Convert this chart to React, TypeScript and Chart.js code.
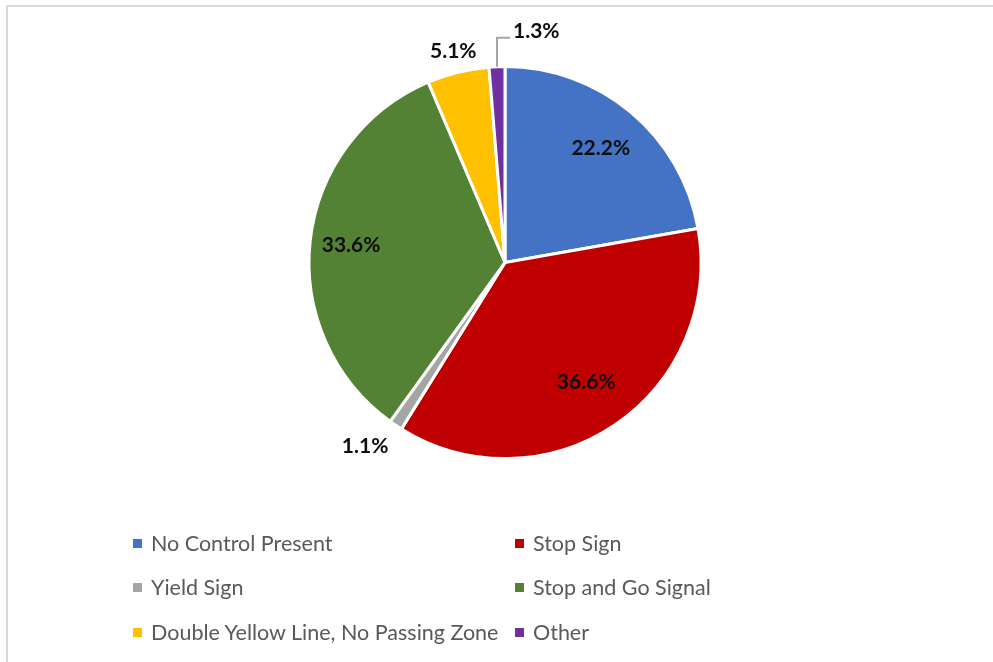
import React, { useEffect, useRef } from "react";
import { Chart, registerables } from "chart.js";

Chart.register(...registerables);

const categories = [
  "No Control Present",
  "Stop Sign",
  "Yield Sign",
  "Stop and Go Signal",
  "Double Yellow Line, No Passing Zone",
  "Other",
];
const shares = [22.2, 36.6, 1.1, 33.6, 5.1, 1.3];
const colors = ["#4472C4", "#C00000", "#A5A5A5", "#548235", "#FFC000", "#7030A0"];
const valueLabels = ["22.2%", "36.6%", "1.1%", "33.6%", "5.1%", "1.3%"];

// label placement: radius factor and pixel nudges (style only)
const placement = [
  { mode: "in", f: 0.76, dx: 0, dy: 0 },
  { mode: "in", f: 0.74, dx: 0, dy: 0 },
  { mode: "out", f: 1.18, dx: -11, dy: -8 },
  { mode: "in", f: 0.79, dx: 0, dy: 0 },
  { mode: "out", f: 1.1, dx: 0, dy: -2 },
  { mode: "leader", f: 1, dx: 0, dy: 0 },
];

const labelPlugin = {
  id: "sliceLabels",
  afterDatasetsDraw(chart: any) {
    const ctx = chart.ctx;
    const meta = chart.getDatasetMeta(0);
    ctx.save();
    ctx.font = "bold 21px Lato";
    ctx.fillStyle = "#0d0d0d";
    meta.data.forEach((arc: any, i: number) => {
      const p = arc.getProps(["x", "y", "startAngle", "endAngle", "outerRadius"], true);
      const mid = (p.startAngle + p.endAngle) / 2;
      const pl = placement[i];
      if (pl.mode === "leader") {
        const ox = p.x + Math.cos(mid) * p.outerRadius;
        const oy = p.y + Math.sin(mid) * p.outerRadius;
        const ty = oy - 29;
        ctx.strokeStyle = "#a6a6a6";
        ctx.lineWidth = 2;
        ctx.beginPath();
        ctx.moveTo(ox, oy);
        ctx.lineTo(ox, ty);
        ctx.lineTo(ox + 13, ty);
        ctx.stroke();
        ctx.textAlign = "left";
        ctx.textBaseline = "alphabetic";
        ctx.fillText(valueLabels[i], ox + 16, ty);
        return;
      }
      const r = p.outerRadius * pl.f;
      const lx = p.x + Math.cos(mid) * r + pl.dx;
      const ly = p.y + Math.sin(mid) * r + pl.dy;
      ctx.textAlign = "center";
      ctx.textBaseline = "middle";
      ctx.fillText(valueLabels[i], lx, ly);
    });
    ctx.restore();
  },
};

export default function App() {
  const canvasRef = useRef<HTMLCanvasElement | null>(null);

  useEffect(() => {
    if (!canvasRef.current) return;
    const chart = new Chart(canvasRef.current, {
      type: "pie",
      data: {
        labels: categories,
        datasets: [
          {
            data: shares,
            backgroundColor: colors,
            borderColor: "#ffffff",
            borderWidth: 3,
          },
        ],
      },
      options: {
        responsive: false,
        animation: false,
        layout: { padding: { top: 65, bottom: 202, left: 100, right: 83 } },
        plugins: {
          legend: { display: false },
          tooltip: { enabled: false },
        },
      },
      plugins: [labelPlugin],
    });
    return () => chart.destroy();
  }, []);

  const legendPos = [
    { left: 133, top: 543 },
    { left: 515, top: 543 },
    { left: 133, top: 587 },
    { left: 515, top: 587 },
    { left: 133, top: 632 },
    { left: 515, top: 632 },
  ];

  return (
    <div
      style={{
        position: "fixed",
        left: 0,
        top: 0,
        width: 993,
        height: 662,
        background: "#ffffff",
        overflow: "hidden",
      }}
    >
      <div
        style={{
          position: "absolute",
          left: 6,
          top: 5,
          width: 1100,
          height: 800,
          borderLeft: "2px solid #d9d9d9",
          borderTop: "2px solid #d9d9d9",
        }}
      />
      <canvas
        ref={canvasRef}
        width={993}
        height={662}
        style={{ position: "absolute", left: 0, top: 0, width: 993, height: 662 }}
      />
      {categories.map((c, i) => (
        <div
          key={c}
          style={{
            position: "absolute",
            left: legendPos[i].left,
            top: legendPos[i].top,
            transform: "translateY(-50%)",
            display: "flex",
            alignItems: "center",
            fontFamily: "Lato, sans-serif",
            fontSize: 21.5,
            color: "#595959",
            whiteSpace: "nowrap",
          }}
        >
          <span
            style={{
              display: "inline-block",
              width: 9,
              height: 9,
              background: colors[i],
              marginRight: 9,
            }}
          />
          <span>{c}</span>
        </div>
      ))}
    </div>
  );
}
